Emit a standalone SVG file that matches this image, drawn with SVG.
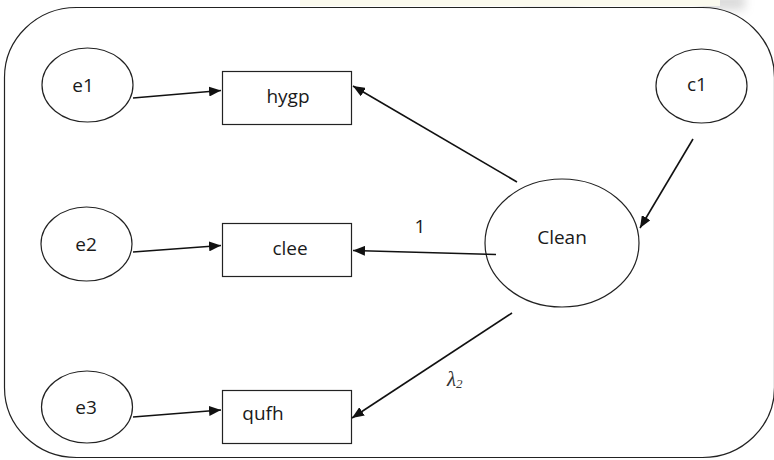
<svg xmlns="http://www.w3.org/2000/svg" width="774" height="460" viewBox="0 0 774 460">
<defs>
<marker id="ah" viewBox="0 0 12 10" refX="12" refY="5" markerWidth="12" markerHeight="10" markerUnits="userSpaceOnUse" orient="auto">
<path d="M0,0 L12,5 L0,10 Z" fill="#111"/>
</marker>
<filter id="blur" x="-50%" y="-50%" width="200%" height="200%"><feGaussianBlur stdDeviation="5"/></filter>
</defs>
<style>
.shape{fill:#fff;stroke:#222;stroke-width:1.2}
.lbl{font-family:"Open Sans","Liberation Sans",sans-serif;font-size:19px;fill:#1a1a1a;text-anchor:middle}
.edge{stroke:#111;stroke-width:1.6;fill:none;marker-end:url(#ah)}
</style>
<rect width="774" height="460" fill="#fff"/>
<g id="bg" opacity="0.35" filter="url(#blur)">
<rect x="700" y="-6" width="45" height="16" fill="#999"/>
<rect x="520" y="-6" width="60" height="12" fill="#bbb"/>
</g>
<rect x="300" y="0" width="420" height="6" fill="#fbfaee"/>
<g id="frame">
<rect class="shape" x="4.5" y="7.5" width="770" height="450" rx="72" ry="70"/>
</g>
<g id="e1"><ellipse class="shape" cx="87.5" cy="85" rx="45.5" ry="37"/><text class="lbl" x="83" y="92">e1</text></g>
<g id="e2"><ellipse class="shape" cx="86.5" cy="244" rx="45.5" ry="37"/><text class="lbl" x="86" y="251">e2</text></g>
<g id="e3"><ellipse class="shape" cx="87" cy="407" rx="45.5" ry="36"/><text class="lbl" x="86" y="414">e3</text></g>
<g id="c1"><ellipse class="shape" cx="701.5" cy="86" rx="45.5" ry="37"/><text class="lbl" x="697" y="91">c1</text></g>
<g id="hygp"><rect class="shape" x="222.5" y="71.5" width="129" height="53"/><text class="lbl" x="288" y="103">hygp</text></g>
<g id="clee"><rect class="shape" x="222.5" y="223.5" width="129" height="53"/><text class="lbl" x="290" y="255">clee</text></g>
<g id="qufh"><rect class="shape" x="222.5" y="390.5" width="129" height="53"/><text class="lbl" x="263" y="420">qufh</text></g>
<g id="Clean"><ellipse class="shape" cx="562" cy="243" rx="77" ry="64"/><text class="lbl" x="562" y="244">Clean</text></g>
<g id="connectors">
<line class="edge" x1="133" y1="98" x2="221" y2="90.5"/>
<line class="edge" x1="517" y1="182" x2="353" y2="86"/>
<line class="edge" x1="133" y1="252" x2="221" y2="245.5"/>
<line class="edge" x1="496" y1="254.5" x2="353" y2="250.5"/>
<line class="edge" x1="693" y1="139" x2="640" y2="228"/>
<line class="edge" x1="133" y1="417" x2="221" y2="410"/>
<line class="edge" x1="512" y1="313" x2="352" y2="418"/>
</g>
<g id="labels">
<text class="lbl" x="420" y="233">1</text>
<text x="447" y="386" font-family="Liberation Serif,serif" font-style="italic" font-size="21" fill="#333">λ<tspan font-size="13" dy="2">2</tspan></text>
</g>
</svg>
